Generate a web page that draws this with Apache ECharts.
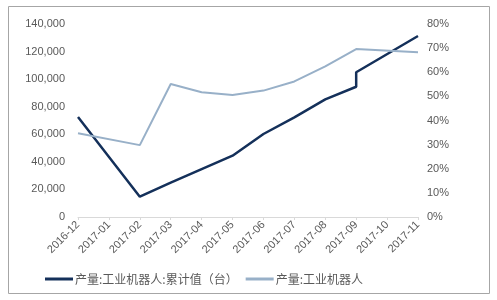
<!DOCTYPE html>
<html>
<head>
<meta charset="utf-8">
<script src="https://cdn.jsdelivr.net/npm/echarts@6/dist/echarts.min.js"></script>
<style>
html,body{margin:0;padding:0;background:#fff;}
#c{width:497px;height:300px;}
</style>
</head>
<body>
<div id="c"></div>
<script>
const categories = ['2016-12','2017-01','2017-02','2017-03','2017-04','2017-05','2017-06','2017-07','2017-08','2017-09','2017-10','2017-11'];
const cumName = '产量:工业机器人:累计值（台）';
const growthName = '产量:工业机器人';
// cumulative output (units); 2017-09 appears twice (vertical step in the source)
const cumCategories = ['2016-12','2017-02','2017-03','2017-04','2017-05','2017-06','2017-07','2017-08','2017-09','2017-09','2017-11'];
const cumValues = [72500, 14700, 25000, 34800, 44500, 60200, 72300, 85300, 94500, 105000, 131300];
// growth (%)
const growthCategories = ['2016-12','2017-02','2017-03','2017-04','2017-05','2017-06','2017-07','2017-08','2017-09','2017-11'];
const growthValues = [34.7, 29.8, 55.1, 51.7, 50.6, 52.4, 56.2, 62.4, 69.6, 68.3];
const leftTicks = {min:0, max:140000, interval:20000};
const rightTicks = {min:0, max:80, interval:10};

const chart = echarts.init(document.getElementById('c'), null, {renderer:'canvas'});
const txt = '#595959';
const font = 'Liberation Sans, Arial, sans-serif';
chart.setOption({
  animation:false,
  backgroundColor:'#fff',
  graphic:[{type:'rect', shape:{x:8.5,y:6.5,width:481,height:287}, style:{fill:'none', stroke:'#a6a6a6', lineWidth:1}, silent:true}],
  grid:{left:78, right:79, top:24, bottom:83},
  legend:{
    left:40, top:268, itemWidth:28, itemHeight:3, itemGap:8,
    icon:'rect',
    textStyle:{color:txt, fontSize:12, fontFamily:'Noto Sans CJK SC, sans-serif', padding:[0,0,0,-3]},
    data:[cumName, growthName]
  },
  xAxis:{
    type:'category', data:categories, boundaryGap:false,
    axisLine:{lineStyle:{color:'#d9d9d9'}},
    axisTick:{show:true, length:3, lineStyle:{color:'#d9d9d9'}},
    axisLabel:{color:txt, fontSize:11, fontFamily:font, rotate:45, margin:6, interval:0}
  },
  yAxis:[{
    type:'value', min:leftTicks.min, max:leftTicks.max, interval:leftTicks.interval,
    splitLine:{show:false}, axisLine:{show:false}, axisTick:{show:false},
    axisLabel:{color:txt, fontSize:11, fontFamily:font, margin:13,
      formatter:v=>v.toLocaleString('en-US')}
  },{
    type:'value', min:rightTicks.min, max:rightTicks.max, interval:rightTicks.interval,
    splitLine:{show:false}, axisLine:{show:false}, axisTick:{show:false},
    axisLabel:{color:txt, fontSize:11, fontFamily:font, margin:9, formatter:'{value}%'}
  }],
  series:[{
    name:cumName, type:'line', yAxisIndex:0, symbol:'none',
    data:cumCategories.map((c,i)=>[c, cumValues[i]]),
    lineStyle:{color:'#14305a', width:2.5}, itemStyle:{color:'#14305a'}
  },{
    name:growthName, type:'line', yAxisIndex:1, symbol:'none',
    data:growthCategories.map((c,i)=>[c, growthValues[i]]),
    lineStyle:{color:'#98b0c8', width:2}, itemStyle:{color:'#98b0c8'}
  }]
});
</script>
</body>
</html>
